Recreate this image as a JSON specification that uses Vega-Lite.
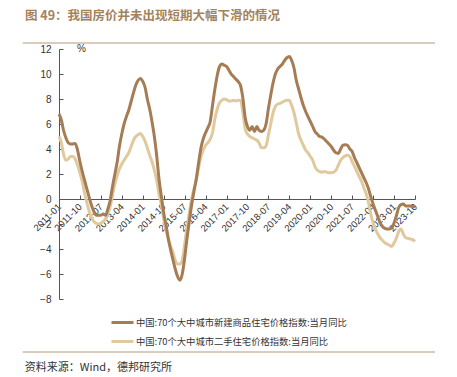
{
  "$schema": "https://vega.github.io/schema/vega-lite/v6.json",
  "width": 356,
  "height": 250,
  "autosize": {"type": "none"},
  "padding": {"left": 59, "top": 49, "right": 42, "bottom": 78},
  "background": "white",
  "config": {
    "view": {"stroke": null},
    "font": "Liberation Sans",
    "axis": {"labelFont": "Liberation Sans", "labelColor": "#333333", "domainColor": "#555555", "tickColor": "#555555", "grid": false}
  },
  "title": {
    "text": "图 49：我国房价并未出现短期大幅下滑的情况",
    "anchor": "start",
    "frame": "group",
    "dx": -34,
    "offset": 20,
    "font": "Noto Sans CJK SC",
    "fontSize": 12.5,
    "fontWeight": "bold",
    "color": "#a3835c"
  },
  "data": {
    "values": [
      {"d":"2011/01/01","n":6.8,"u":5.0},{"d":"2011/02/01","n":6.3,"u":4.5},{"d":"2011/03/01","n":5.5,"u":3.6},{"d":"2011/04/01","n":4.9,"u":3.1},{"d":"2011/05/01","n":4.5,"u":3.2},{"d":"2011/06/01","n":4.4,"u":3.4},{"d":"2011/07/01","n":4.4,"u":3.4},{"d":"2011/08/01","n":4.45,"u":3.2},{"d":"2011/09/01","n":3.9,"u":2.7},{"d":"2011/10/01","n":3.0,"u":2.1},{"d":"2011/11/01","n":2.2,"u":1.4},{"d":"2011/12/01","n":1.5,"u":0.5},
      {"d":"2012/01/01","n":0.8,"u":-0.3},{"d":"2012/02/01","n":0.1,"u":-1.0},{"d":"2012/03/01","n":-0.5,"u":-1.5},{"d":"2012/04/01","n":-1.0,"u":-1.8},{"d":"2012/05/01","n":-1.3,"u":-1.95},{"d":"2012/06/01","n":-1.3,"u":-2.0},{"d":"2012/07/01","n":-1.3,"u":-1.95},{"d":"2012/08/01","n":-1.2,"u":-1.8},{"d":"2012/09/01","n":-1.3,"u":-1.6},{"d":"2012/10/01","n":-0.8,"u":-1.2},{"d":"2012/11/01","n":-0.1,"u":-0.6},{"d":"2012/12/01","n":1.0,"u":0.3},
      {"d":"2013/01/01","n":2.0,"u":1.2},{"d":"2013/02/01","n":3.0,"u":1.9},{"d":"2013/03/01","n":4.2,"u":2.4},{"d":"2013/04/01","n":5.2,"u":2.8},{"d":"2013/05/01","n":6.0,"u":3.1},{"d":"2013/06/01","n":6.6,"u":3.4},{"d":"2013/07/01","n":7.1,"u":3.7},{"d":"2013/08/01","n":7.8,"u":4.2},{"d":"2013/09/01","n":8.5,"u":4.7},{"d":"2013/10/01","n":9.1,"u":5.0},{"d":"2013/11/01","n":9.5,"u":5.15},{"d":"2013/12/01","n":9.65,"u":5.25},
      {"d":"2014/01/01","n":9.4,"u":5.0},{"d":"2014/02/01","n":8.9,"u":4.6},{"d":"2014/03/01","n":8.0,"u":4.1},{"d":"2014/04/01","n":7.2,"u":3.5},{"d":"2014/05/01","n":6.2,"u":3.0},{"d":"2014/06/01","n":5.0,"u":2.3},{"d":"2014/07/01","n":3.5,"u":1.5},{"d":"2014/08/01","n":1.6,"u":0.4},{"d":"2014/09/01","n":0.2,"u":-0.5},{"d":"2014/10/01","n":-1.1,"u":-1.6},{"d":"2014/11/01","n":-2.1,"u":-2.5},{"d":"2014/12/01","n":-3.2,"u":-3.2},
      {"d":"2015/01/01","n":-4.1,"u":-3.8},{"d":"2015/02/01","n":-4.9,"u":-4.3},{"d":"2015/03/01","n":-5.6,"u":-4.9},{"d":"2015/04/01","n":-6.2,"u":-5.2},{"d":"2015/05/01","n":-6.5,"u":-5.2},{"d":"2015/06/01","n":-6.0,"u":-4.9},{"d":"2015/07/01","n":-4.8,"u":-3.7},{"d":"2015/08/01","n":-3.2,"u":-2.3},{"d":"2015/09/01","n":-1.8,"u":-1.1},{"d":"2015/10/01","n":-0.5,"u":0.0},{"d":"2015/11/01","n":0.6,"u":0.8},{"d":"2015/12/01","n":1.6,"u":1.5},
      {"d":"2016/01/01","n":2.9,"u":2.5},{"d":"2016/02/01","n":4.1,"u":3.4},{"d":"2016/03/01","n":4.8,"u":3.9},{"d":"2016/04/01","n":5.3,"u":4.3},{"d":"2016/05/01","n":5.7,"u":4.5},{"d":"2016/06/01","n":6.2,"u":4.8},{"d":"2016/07/01","n":7.5,"u":5.3},{"d":"2016/08/01","n":8.8,"u":6.4},{"d":"2016/09/01","n":9.9,"u":7.2},{"d":"2016/10/01","n":10.6,"u":7.7},{"d":"2016/11/01","n":10.8,"u":7.9},{"d":"2016/12/01","n":10.7,"u":8.0},
      {"d":"2017/01/01","n":10.6,"u":7.95},{"d":"2017/02/01","n":10.3,"u":7.85},{"d":"2017/03/01","n":10.0,"u":7.85},{"d":"2017/04/01","n":9.8,"u":7.9},{"d":"2017/05/01","n":9.6,"u":7.85},{"d":"2017/06/01","n":9.4,"u":7.9},{"d":"2017/07/01","n":9.1,"u":7.9},{"d":"2017/08/01","n":8.1,"u":7.0},{"d":"2017/09/01","n":6.5,"u":5.6},{"d":"2017/10/01","n":5.8,"u":5.2},{"d":"2017/11/01","n":5.5,"u":5.0},{"d":"2017/12/01","n":5.8,"u":4.9},
      {"d":"2018/01/01","n":5.4,"u":4.8},{"d":"2018/02/01","n":5.8,"u":4.7},{"d":"2018/03/01","n":5.5,"u":4.5},{"d":"2018/04/01","n":5.4,"u":4.1},{"d":"2018/05/01","n":5.5,"u":4.1},{"d":"2018/06/01","n":6.0,"u":4.25},{"d":"2018/07/01","n":7.2,"u":5.1},{"d":"2018/08/01","n":8.3,"u":6.0},{"d":"2018/09/01","n":9.3,"u":6.9},{"d":"2018/10/01","n":10.0,"u":7.4},{"d":"2018/11/01","n":10.4,"u":7.6},{"d":"2018/12/01","n":10.6,"u":7.65},
      {"d":"2019/01/01","n":10.8,"u":7.75},{"d":"2019/02/01","n":11.1,"u":7.85},{"d":"2019/03/01","n":11.3,"u":7.9},{"d":"2019/04/01","n":11.4,"u":7.9},{"d":"2019/05/01","n":11.1,"u":7.5},{"d":"2019/06/01","n":10.5,"u":6.9},{"d":"2019/07/01","n":9.5,"u":6.1},{"d":"2019/08/01","n":8.8,"u":5.2},{"d":"2019/09/01","n":8.1,"u":4.7},{"d":"2019/10/01","n":7.5,"u":4.3},{"d":"2019/11/01","n":7.0,"u":3.9},{"d":"2019/12/01","n":6.6,"u":3.7},
      {"d":"2020/01/01","n":6.2,"u":3.4},{"d":"2020/02/01","n":5.8,"u":3.1},{"d":"2020/03/01","n":5.4,"u":2.6},{"d":"2020/04/01","n":5.2,"u":2.3},{"d":"2020/05/01","n":5.0,"u":2.2},{"d":"2020/06/01","n":4.95,"u":2.15},{"d":"2020/07/01","n":4.8,"u":2.2},{"d":"2020/08/01","n":4.6,"u":2.15},{"d":"2020/09/01","n":4.4,"u":2.1},{"d":"2020/10/01","n":4.2,"u":2.1},{"d":"2020/11/01","n":3.9,"u":2.15},{"d":"2020/12/01","n":3.7,"u":2.3},
      {"d":"2021/01/01","n":3.65,"u":2.7},{"d":"2021/02/01","n":4.0,"u":3.1},{"d":"2021/03/01","n":4.3,"u":3.3},{"d":"2021/04/01","n":4.35,"u":3.45},{"d":"2021/05/01","n":4.3,"u":3.5},{"d":"2021/06/01","n":4.0,"u":3.4},{"d":"2021/07/01","n":3.8,"u":3.0},{"d":"2021/08/01","n":3.3,"u":2.6},{"d":"2021/09/01","n":2.9,"u":2.2},{"d":"2021/10/01","n":2.5,"u":1.8},{"d":"2021/11/01","n":2.1,"u":1.4},{"d":"2021/12/01","n":1.7,"u":0.9},
      {"d":"2022/01/01","n":1.3,"u":0.4},{"d":"2022/02/01","n":0.8,"u":-0.3},{"d":"2022/03/01","n":0.2,"u":-1.2},{"d":"2022/04/01","n":-0.4,"u":-1.9},{"d":"2022/05/01","n":-0.9,"u":-2.4},{"d":"2022/06/01","n":-1.4,"u":-2.8},{"d":"2022/07/01","n":-1.9,"u":-3.1},{"d":"2022/08/01","n":-2.2,"u":-3.3},{"d":"2022/09/01","n":-2.35,"u":-3.5},{"d":"2022/10/01","n":-2.4,"u":-3.6},{"d":"2022/11/01","n":-2.4,"u":-3.7},{"d":"2022/12/01","n":-2.3,"u":-3.8},
      {"d":"2023/01/01","n":-1.9,"u":-3.5},{"d":"2023/02/01","n":-1.3,"u":-3.1},{"d":"2023/03/01","n":-0.7,"u":-2.6},{"d":"2023/04/01","n":-0.45,"u":-2.4},{"d":"2023/05/01","n":-0.4,"u":-2.8},{"d":"2023/06/01","n":-0.55,"u":-3.1},{"d":"2023/07/01","n":-0.55,"u":-3.15},{"d":"2023/08/01","n":-0.55,"u":-3.2},{"d":"2023/09/01","n":-0.6,"u":-3.25},{"d":"2023/10/01","n":-0.6,"u":-3.4}
    ]
  },
  "encoding": {
    "x": {
      "field": "d",
      "type": "temporal",
      "scale": {"domain": [{"year": 2011, "month": 1, "date": 1}, {"year": 2023, "month": 10, "date": 1}], "nice": false},
      "axis": {
        "title": null,
        "offset": -100,
        "values": [
          {"year": 2011, "month": 1, "date": 1}, {"year": 2011, "month": 10, "date": 1},
          {"year": 2012, "month": 7, "date": 1}, {"year": 2013, "month": 4, "date": 1},
          {"year": 2014, "month": 1, "date": 1}, {"year": 2014, "month": 10, "date": 1},
          {"year": 2015, "month": 7, "date": 1}, {"year": 2016, "month": 4, "date": 1},
          {"year": 2017, "month": 1, "date": 1}, {"year": 2017, "month": 10, "date": 1},
          {"year": 2018, "month": 7, "date": 1}, {"year": 2019, "month": 4, "date": 1},
          {"year": 2020, "month": 1, "date": 1}, {"year": 2020, "month": 10, "date": 1},
          {"year": 2021, "month": 7, "date": 1}, {"year": 2022, "month": 4, "date": 1},
          {"year": 2023, "month": 1, "date": 1}, {"year": 2023, "month": 10, "date": 1}
        ],
        "format": "%Y-%m",
        "labelAngle": -45,
        "labelAlign": "right",
        "labelBaseline": "middle",
        "labelFontSize": 9.5,
        "labelPadding": 10,
        "tickSize": -4,
        "labelOverlap": false,
        "labelBound": false,
        "labelFlush": false
      }
    }
  },
  "layer": [
    {
      "mark": {"type": "line", "strokeWidth": 3, "interpolate": "monotone"},
      "encoding": {
        "y": {
          "field": "u",
          "type": "quantitative",
          "scale": {"domain": [-8, 12], "nice": false, "zero": false},
          "axis": {
            "values": [-8, -6, -4, -2, 0, 2, 4, 6, 8, 10, 12],
            "tickCount": 11,
            "labelOverlap": false,
            "labelFlush": false,
            "labelBound": false,
            "title": "%",
            "titleAngle": 0,
            "titleX": 22,
            "titleY": -1,
            "titleAlign": "center",
            "titleBaseline": "middle",
            "titleFontWeight": "normal",
            "titleFontSize": 10,
            "titleColor": "#333333",
            "titleFont": "Liberation Sans",
            "labelFontSize": 10,
            "tickSize": -4,
            "labelPadding": 12
          }
        },
        "color": {
          "datum": "used",
          "type": "nominal",
          "scale": {"domain": ["new", "used"], "range": ["#a57c54", "#dfc99d"]},
          "legend": {
            "title": null,
            "orient": "none",
            "legendX": 51,
            "legendY": 261,
            "symbolType": "stroke",
            "symbolSize": 484,
            "symbolStrokeWidth": 3,
            "rowPadding": -4,
            "labelFont": "Noto Sans CJK SC",
            "labelFontSize": 9.3,
            "labelColor": "#333333",
            "labelOffset": 1,
            "labelLimit": 400,
            "labelExpr": "datum.value == 'new' ? '中国:70个大中城市新建商品住宅价格指数:当月同比' : '中国:70个大中城市二手住宅价格指数:当月同比'"
          }
        }
      }
    },
    {
      "mark": {"type": "line", "strokeWidth": 3, "interpolate": "monotone"},
      "encoding": {
        "y": {
          "field": "n",
          "type": "quantitative",
          "axis": {
            "values": [-8, -6, -4, -2, 0, 2, 4, 6, 8, 10, 12],
            "tickCount": 11,
            "labelOverlap": false,
            "labelFlush": false,
            "labelBound": false
          }
        },
        "color": {"datum": "new", "type": "nominal"}
      }
    },
    {
      "data": {"values": [{"y": 12.48, "a": "2009/09/13", "b": "2024/06/19"}, {"y": -12.24, "a": "2009/09/13", "b": "2024/06/19"}]},
      "mark": {"type": "rule", "color": "#b59a7c", "strokeWidth": 1, "clip": false},
      "encoding": {
        "x": {"field": "a", "type": "temporal"},
        "x2": {"field": "b"},
        "y": {"field": "y", "type": "quantitative"}
      }
    },
    {
      "data": {"values": [{"y": -13.52, "a": "2009/10/10", "t": "资料来源：Wind，德邦研究所"}]},
      "mark": {"type": "text", "align": "left", "baseline": "middle", "font": "Noto Sans CJK SC", "fontSize": 11, "color": "#333333", "clip": false},
      "encoding": {
        "x": {"field": "a", "type": "temporal"},
        "y": {"field": "y", "type": "quantitative"},
        "text": {"field": "t"}
      }
    }
  ]
}
